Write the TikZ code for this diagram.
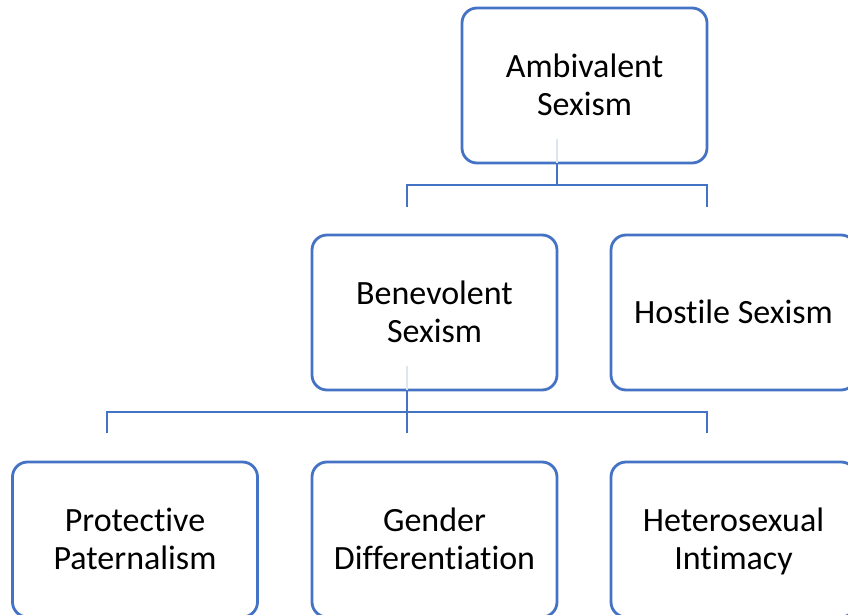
\documentclass[tikz,border=0pt]{standalone}
\usepackage{fontspec}
\setmainfont{Carlito}[Ligatures={NoCommon}]
\usetikzlibrary{calc}
\definecolor{officeblue}{HTML}{4472C4}
\definecolor{faintblue}{HTML}{DDE5F3}
% uniform line strut so every label line has the same height and depth
\newcommand\boxstrut{\rule[-7.9pt]{0pt}{38pt}}
\begin{document}
\begin{tikzpicture}[x=1pt,y=-1pt,
  box/.style={draw=officeblue, line width=2.8pt, rounded corners=15pt, fill=white,
    minimum width=245pt, minimum height=155pt, align=center, inner sep=0pt,
    font=\fontsize{34}{38}\selectfont, text=black},
  link/.style={draw=officeblue, line width=2.5pt},
  ghost/.style={draw=faintblue, line width=2.5pt}]
\useasboundingbox (0,0) rectangle (848,615);

% tier 1
\node[box] (ambi) at (584.5,85.5) {\boxstrut Ambivalent\\\boxstrut Sexism};
% tier 2
\node[box] (bene) at (434.5,312.5) {\boxstrut Benevolent\\\boxstrut Sexism};
\node[box] (host) at (733.5,312.5) {\boxstrut Hostile Sexism};
% tier 3
\node[box] (prot) at (135,539.5) {\boxstrut Protective\\\boxstrut Paternalism};
\node[box] (gend) at (434.5,539.5) {\boxstrut Gender\\\boxstrut Differentiation};
\node[box] (hete) at (733.5,539.5) {\boxstrut Heterosexual\\\boxstrut Intimacy};

% connector points
\coordinate (a0) at (557,163);
\coordinate (a1) at (557,185);
\coordinate (aL) at (407,207);
\coordinate (aR) at (707,207);
\coordinate (b0) at (407,390);
\coordinate (b1) at (407,412);
\coordinate (bL) at (107,433);
\coordinate (bM) at (407,433);
\coordinate (bR) at (707,433);

% faint stems inside the parent boxes
\draw[ghost] (557,139) -- (a0);
\draw[ghost] (407,366) -- (b0);

% tier 1 -> tier 2
\draw[link] (a0) -- (a1);
\draw[link] (aL) |- (a1) -| (aR);
% tier 2 -> tier 3
\draw[link] (b0) -- (bM);
\draw[link] (bL) |- (b1) -| (bR);
\end{tikzpicture}
\end{document}
